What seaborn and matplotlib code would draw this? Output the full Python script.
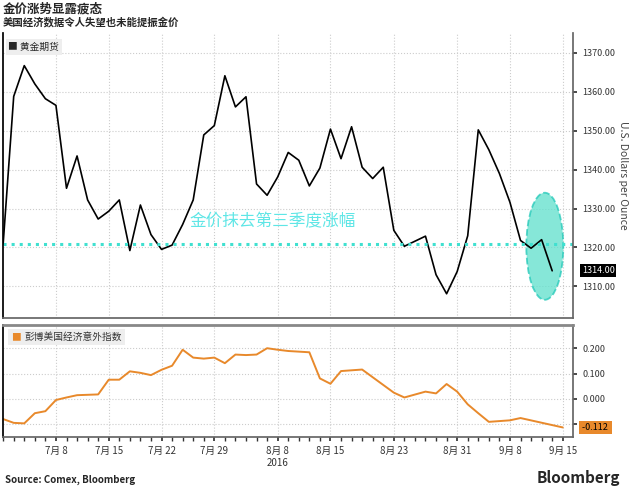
import numpy as np
import matplotlib
matplotlib.use("Agg")
import matplotlib.pyplot as plt
import seaborn as sns
from matplotlib.patches import Ellipse

# gold futures, one value per trading day
gold = [1320.9, 1358.8, 1366.7, 1362.0, 1358.2, 1356.5, 1335.2, 1343.5, 1332.2, 1327.3,
        1329.3, 1332.2, 1319.2, 1330.9, 1323.3, 1319.5, 1320.6, 1325.9, 1332.2, 1348.9,
        1351.3, 1364.1, 1356.1, 1358.7, 1336.3, 1333.4, 1338.1, 1344.4, 1342.4, 1335.8,
        1340.4, 1350.4, 1342.8, 1351.0, 1340.6, 1337.7, 1340.6, 1324.4, 1320.3, 1321.6,
        1322.9, 1313.0, 1308.1, 1313.8, 1323.0, 1350.2, 1345.1, 1339.0, 1331.6, 1321.8,
        1319.8, 1322.0, 1314.0]
# bloomberg US economic surprise index (trading-day index, value)
surp_idx = [0, 1, 2, 3, 4, 5, 6, 7, 9, 10, 11, 12, 13, 14, 15, 16, 17, 18, 19, 20, 21, 22,
            23, 24, 25, 26, 27, 29, 30, 31, 32, 34, 37, 38, 40, 41, 42, 43, 44, 45, 46, 48,
            49, 53]
surp = [-0.079, -0.094, -0.096, -0.056, -0.048, -0.004, 0.006, 0.015, 0.018, 0.076, 0.076,
        0.109, 0.103, 0.094, 0.115, 0.131, 0.194, 0.163, 0.159, 0.163, 0.141, 0.175, 0.173,
        0.175, 0.200, 0.194, 0.189, 0.184, 0.081, 0.060, 0.110, 0.116, 0.025, 0.006, 0.029,
        0.022, 0.059, 0.029, -0.021, -0.056, -0.090, -0.084, -0.075, -0.112]
tick_pos = [5, 10, 15, 20, 26, 31, 37, 43, 48, 53]
tick_lab = ["7月 8", "7月 15", "7月 22", "7月 29", "8月 8", "8月 15", "8月 23", "8月 31", "9月 8", "9月 15"]

sns.set_theme(style="white")
plt.rcParams['font.family'] = ['Noto Sans CJK SC', 'DejaVu Sans']

fig = plt.figure(figsize=(6.3, 4.9), dpi=100)
ax1 = fig.add_axes([0.005, 0.352, 0.905, 0.58])
ax2 = fig.add_axes([0.005, 0.108, 0.905, 0.228])

x = np.arange(len(gold))
sns.lineplot(x=x, y=gold, ax=ax1, color="black", lw=1.2)
sns.lineplot(x=surp_idx, y=surp, ax=ax2, color="#e8892b", lw=1.4)

for ax in (ax1, ax2):
    ax.set_xlim(0, 54)
    ax.yaxis.tick_right()
    ax.set_xticks(tick_pos)
    ax.grid(True, color="#cccccc", ls=":", lw=0.8)
    ax.spines["top"].set_visible(False)
    ax.spines["left"].set_color("black")
    ax.spines["right"].set_color("#666666")
    ax.spines["bottom"].set_color("#666666")
    ax.tick_params(axis="y", labelsize=6.5, length=3, direction="out", right=True, colors="#333333")

ax1.set_ylim(1302, 1375)
ax1.set_yticks([1310, 1320, 1330, 1340, 1350, 1360, 1370])
ax1.set_yticklabels(["%.2f" % v for v in [1310, 1320, 1330, 1340, 1350, 1360, 1370]])
ax1.set_xticklabels([])
ax1.tick_params(axis="x", length=0)
ax1.yaxis.set_label_position("right")
ax1.set_ylabel("U.S. Dollars per Ounce", rotation=270, labelpad=9, fontsize=7.5, color="#444444")
ax1.axhline(1320.8, color="#40e0d0", ls=":", lw=2.2)
ax1.add_patch(Ellipse((51.3, 1320.3), 3.5, 27.5, facecolor="#5ee0cc", alpha=0.75,
                      edgecolor="#20c8b8", ls="--", lw=1.3))
ax1.text(25.5, 1326.5, "金价抹去第三季度涨幅", color="#5fe6e6", fontsize=12, ha="center", va="center")
ax1.text(54.8, 1314, "1314.00", fontsize=6.5, color="white", va="center",
         bbox=dict(boxstyle="square,pad=0.2", fc="black", ec="none"), clip_on=False)
ax1.text(0.5, 1371.5, "■ 黄金期货", fontsize=7, va="center",
         bbox=dict(boxstyle="square,pad=0.3", fc="#eeeeee", ec="none"))

ax2.set_ylim(-0.15, 0.29)
ax2.set_yticks([-0.1, 0.0, 0.1, 0.2])
ax2.set_yticklabels(["", "0.000", "0.100", "0.200"])
ax2.set_xticklabels(tick_lab, fontsize=7)
ax2.set_xticks(np.arange(0, 54), minor=True)
ax2.tick_params(axis="x", which="both", bottom=True, length=3, direction="out", colors="#333333")
ax2.spines["top"].set_visible(True)
ax2.spines["top"].set_color("#888888")
ax2.spines["top"].set_linewidth(2)
ax2.text(54.8, -0.112, "-0.112 ", fontsize=6.5, color="black", va="center",
         bbox=dict(boxstyle="square,pad=0.25", fc="#e8892b", ec="none"), clip_on=False)
ax2.text(0.7, 0.245, "■", fontsize=7, va="center", color="#e8892b",
         bbox=dict(boxstyle="square,pad=0.3", fc="#eeeeee", ec="none"))
ax2.text(2.0, 0.245, "彭博美国经济意外指数", fontsize=7, va="center", color="#333333",
         bbox=dict(boxstyle="square,pad=0.3", fc="#eeeeee", ec="none"))
ax2.text(26, -0.265, "2016", fontsize=7, ha="center", color="#333333")

fig.text(0.005, 0.995, "金价涨势显露疲态", fontsize=9, fontweight="bold", va="top")
fig.text(0.005, 0.965, "美国经济数据令人失望也未能提振金价", fontsize=7.5, fontweight="bold", va="top")
fig.text(0.008, 0.015, "Source: Comex, Bloomberg", fontsize=7, fontweight="bold")
fig.text(0.985, 0.015, "Bloomberg", fontsize=11, fontweight="bold", ha="right")

fig.savefig("out.png", dpi=100)
